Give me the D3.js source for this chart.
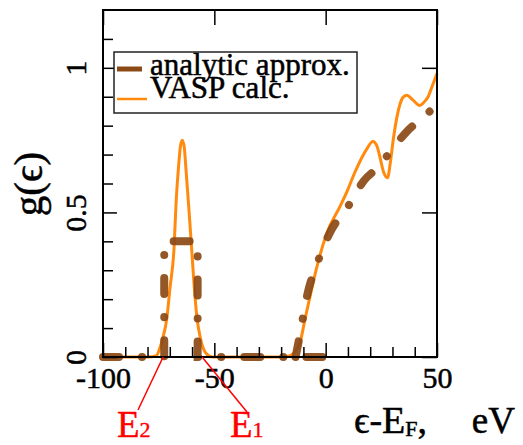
<!DOCTYPE html>
<html>
<head>
<meta charset="utf-8">
<script src="https://cdn.jsdelivr.net/npm/d3@7"></script>
<style>
  html, body { margin: 0; padding: 0; background: #fff; }
  svg { display: block; }
</style>
</head>
<body>
<svg id="chart" width="523" height="445"></svg>
<script>
// VASP calculation, energy (eV) and g
var vaspE = [-100, -80, -76, -74.5, -73, -71.4, -69.9, -68.1, -67.2, -66.2, -65.2, -64.4, -63.5, -62.7, -61.5, -60.2, -59, -57.7, -56.4, -55, -53.4, -51,
  -20, -16, -13.5, -11.5, -9.3, -7, -4, 0.6, 6.4, 10, 13.2, 18.5, 21.2, 23, 24.4, 26, 27.8, 29, 30.5, 33.4, 35, 36.5, 39, 42.3, 44, 46, 48, 50];
var vaspG = [0, 0, 0.005, 0.03, 0.07, 0.13, 0.24, 0.376, 0.53, 0.645, 0.73, 0.75, 0.725, 0.645, 0.52, 0.376, 0.24, 0.13, 0.07, 0.03, 0.01, 0,
  0, 0.005, 0.02, 0.05, 0.13, 0.21, 0.31, 0.43, 0.52, 0.58, 0.64, 0.72, 0.745, 0.73, 0.69, 0.64, 0.62, 0.67, 0.76, 0.875, 0.9, 0.905, 0.89, 0.87, 0.88, 0.9, 0.94, 0.98];

// analytic approximation: low-energy box and the rising part
var analyticLowE = [-100, -72.5, -72.5, -57.5, -57.5, 0];
var analyticLowG = [0, 0, 0.40, 0.40, 0, 0];
var analyticHighE = [-13.5, -11.5, -8.4, -3.5, 1.9, 10, 17.2, 24, 29, 36.5, 45.5, 50];
var analyticHighG = [0, 0.08, 0.21, 0.33, 0.43, 0.52, 0.61, 0.66, 0.71, 0.78, 0.84, 0.875];

var xMajor = [-100, -50, 0, 50];
var xMinor = [-90, -80, -70, -60, -40, -30, -20, -10, 10, 20, 30, 40];
var yMajor = [0, 0.5, 1];
var yMinor = [0.1, 0.2, 0.3, 0.4, 0.6, 0.7, 0.8, 0.9, 1.1];
var legendLabels = ['analytic approx.', 'VASP calc.'];
var markE = [-73, -55.5]; // E2, E1

var L = 103, R = 437, T = 10, B = 357;
var brown = '#8b4a12', orange = '#ff8a10';
var FONT = '"Liberation Serif", "Times New Roman", Times, serif';

var svg = d3.select('#chart');

var x = d3.scaleLinear().domain([-100, 50]).range([L, R]);
var y = d3.scaleLinear().domain([0, 1.2]).range([B, T]);

var zip = function (a, b) { return a.map(function (d, i) { return [d, b[i]]; }); };

var line = d3.line()
  .x(function (d) { return x(d[0]); })
  .y(function (d) { return y(d[1]); });

svg.append('defs').append('filter').attr('id', 'soft')
  .attr('filterUnits', 'userSpaceOnUse')
  .attr('x', 0).attr('y', 0).attr('width', 523).attr('height', 445)
  .append('feGaussianBlur').attr('stdDeviation', 0.6);

// VASP curve
svg.append('path')
  .datum(zip(vaspE, vaspG))
  .attr('d', line.curve(d3.curveMonotoneX))
  .attr('fill', 'none')
  .attr('stroke', orange)
  .attr('stroke-width', 3)
  .attr('filter', 'url(#soft)');

// analytic curve (dash-dot)
[zip(analyticLowE, analyticLowG), zip(analyticHighE, analyticHighG)].forEach(function (pts, i) {
  svg.append('path')
    .datum(pts)
    .attr('d', line.curve(i === 0 ? d3.curveLinear : d3.curveMonotoneX))
    .attr('fill', 'none')
    .attr('stroke', brown)
    .attr('stroke-width', 8)
    .attr('stroke-linecap', 'round')
    .attr('stroke-dasharray', '16,23,0.1,23')
    .attr('opacity', 0.92)
    .attr('filter', 'url(#soft)');
});

// axes
var fmt = function (d) { return String(d); };

svg.append('g').attr('transform', 'translate(0,' + B + ')')
  .call(d3.axisBottom(x).tickValues(xMinor).tickSize(-10).tickFormat(''));
svg.append('g').attr('transform', 'translate(0,' + B + ')')
  .call(d3.axisBottom(x).tickValues(xMajor).tickSize(-14).tickPadding(10).tickFormat(fmt));
svg.append('g').attr('transform', 'translate(0,' + T + ')')
  .call(d3.axisTop(x).tickValues(xMajor).tickSize(-15).tickFormat(''));

svg.append('g').attr('transform', 'translate(' + L + ',0)')
  .call(d3.axisLeft(y).tickValues(yMinor).tickSize(-10).tickFormat(''));
var yAx = svg.append('g').attr('transform', 'translate(' + L + ',0)')
  .call(d3.axisLeft(y).tickValues(yMajor).tickSize(-14).tickFormat(''));
svg.append('g').attr('transform', 'translate(' + R + ',0)')
  .call(d3.axisRight(y).tickValues(yMajor).tickSize(-15).tickFormat(''));

yAx.selectAll('.tick').append('text')
  .attr('transform', 'translate(-17,0) rotate(-90)')
  .attr('text-anchor', 'middle')
  .attr('fill', '#000')
  .text(fmt);

svg.selectAll('.domain').remove();
svg.selectAll('.tick line').attr('stroke', '#000').attr('stroke-width', 1.5);
svg.selectAll('.tick text').attr('font-size', 30);

svg.append('rect')
  .attr('x', L).attr('y', T).attr('width', R - L).attr('height', B - T)
  .attr('fill', 'none').attr('stroke', '#000').attr('stroke-width', 2);

// legend
var lg = svg.append('g');
lg.append('rect').attr('x', 114).attr('y', 52).attr('width', 243).attr('height', 61)
  .attr('fill', '#fff').attr('stroke', '#222').attr('stroke-width', 1.5);
lg.append('line').attr('x1', 117).attr('x2', 142).attr('y1', 69).attr('y2', 69)
  .attr('stroke', brown).attr('stroke-width', 5).attr('filter', 'url(#soft)');
lg.append('line').attr('x1', 117).attr('x2', 147).attr('y1', 99).attr('y2', 99)
  .attr('stroke', orange).attr('stroke-width', 2.5).attr('filter', 'url(#soft)');
lg.selectAll('text.lab').data(legendLabels).enter().append('text')
  .attr('class', 'lab')
  .attr('x', 150).attr('y', function (d, i) { return 75 + i * 23; })
  .attr('font-size', 31)
  .text(function (d) { return d; });

// axis titles
svg.append('text')
  .attr('transform', 'translate(42,184) rotate(-90)')
  .attr('text-anchor', 'middle')
  .attr('font-size', 41)
  .text('g(\u03f5)');

var xt = svg.append('text').attr('x', 354).attr('y', 433).attr('font-size', 38);
xt.append('tspan').text('\u03f5-E');
xt.append('tspan').attr('font-size', 22).attr('dy', 3).text('F');
xt.append('tspan').attr('dy', -3).text(',');
svg.append('text').attr('x', 515).attr('y', 433).attr('font-size', 37)
  .attr('text-anchor', 'end').text('eV');

svg.selectAll('text').attr('font-family', FONT)
  .attr('stroke', '#000').attr('stroke-width', 0.5);

// E1 / E2 markers
var marks = [
  { e: markE[0], tx: 138, ty: 410, lx: 117, sub: '2' },
  { e: markE[1], tx: 247, ty: 412, lx: 230, sub: '1' }
];
marks.forEach(function (m) {
  svg.append('line')
    .attr('x1', x(m.e)).attr('y1', B).attr('x2', m.tx).attr('y2', m.ty)
    .attr('stroke', '#ff0000').attr('stroke-width', 1.5);
  var t = svg.append('text').attr('x', m.lx).attr('y', 437)
    .attr('font-size', 37).attr('fill', '#ff0000')
    .attr('font-family', FONT).attr('stroke', '#ff0000').attr('stroke-width', 0.4);
  t.append('tspan').text('E');
  t.append('tspan').attr('font-size', 22).text(m.sub);
});
</script>
</body>
</html>
